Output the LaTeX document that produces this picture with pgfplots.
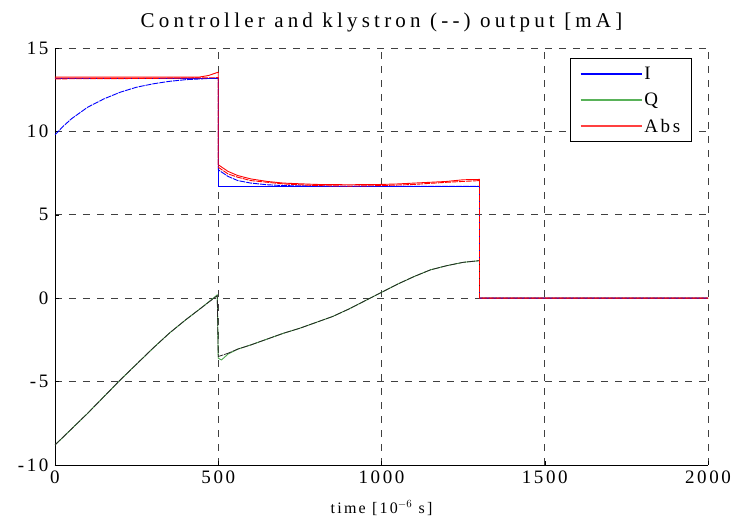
\documentclass[border=0pt]{standalone}
\usepackage{fontspec}
\setmainfont{Liberation Serif}
\newfontfamily\spaced[LetterSpace=14]{Liberation Serif}
\newfontfamily\spacedwide[LetterSpace=20]{Liberation Serif}
\usepackage{pgfplots}
\pgfplotsset{compat=1.18}

\definecolor{mblue}{rgb}{0,0,1}
\definecolor{mgreen}{rgb}{0,0.5,0}
\definecolor{mred}{rgb}{1,0,0}
\definecolor{lgreen}{rgb}{0.35,0.7,0.35}
\definecolor{lred}{rgb}{1,0.25,0.25}

\begin{document}
\begin{tikzpicture}
\begin{axis}[
    name=ax,
    scale only axis,
    width=653pt, height=417pt,
    xmin=0, xmax=2000, ymin=-10, ymax=15,
    axis x line*=bottom, axis y line*=left,
    xtick={0,500,1000,1500,2000},
    ytick={-10,-5,0,5,10,15},
    /pgf/number format/assume math mode=true,
    /pgf/number format/1000 sep={},
    scaled x ticks=false,
    xticklabel style={font=\spaced\fontsize{19}{20}\selectfont, yshift=-2pt},
    yticklabel style={font=\spaced\fontsize{19}{20}\selectfont, xshift=-3pt},
    tick align=inside,
    major tick length=4pt,
    tick style={black, thin},
    grid=major,
    grid style={black!75, dash pattern=on 7pt off 7pt, line width=0.8pt},
    axis line style={black, line width=0.8pt, -},
    title={Controller and klystron (-{}-) output [mA]},
    title style={font=\spacedwide\fontsize{21}{22}\selectfont, yshift=6pt},
    xlabel={time [10$^{-6}$ s]},
    xlabel style={font=\spaced\fontsize{16}{17}\selectfont, yshift=-10pt},
    legend style={at={(0.975,0.975)}, anchor=north east, draw=black, line width=0.8pt,
        font=\spaced\fontsize{19}{22}\selectfont, row sep=8pt, inner xsep=9pt, inner ysep=6pt},
    legend cell align=left,
    legend image code/.code={\draw[#1] (0pt,0pt) -- (61pt,0pt);},
]
\addlegendimage{mblue, line width=1.6pt}
\addlegendentry{I}
\addlegendimage{lgreen, line width=1.6pt}
\addlegendentry{Q}
\addlegendimage{lred, line width=1.6pt}
\addlegendentry{Abs}
% controller I
\addplot[mblue, line width=0.9pt, forget plot] coordinates {
    (0,13.2) (500,13.2) (500,6.7) (1300,6.7) (1300,0) (2000,0)
};
% controller Q
\addplot[mgreen!70!white, line width=0.9pt, forget plot] coordinates {
    (0,-8.8) (50,-7.85) (100,-6.9) (150,-5.9) (200,-4.9) (250,-3.95) (300,-3.0)
    (350,-2.1) (400,-1.3) (450,-0.55) (497,0.2) (500,-3.6) (510,-3.7) (530,-3.35)
    (560,-3.05) (600,-2.8) (650,-2.45) (700,-2.1) (750,-1.8) (800,-1.45) (850,-1.1)
    (900,-0.65) (950,-0.15) (1000,0.35) (1050,0.85) (1100,1.3) (1150,1.7)
    (1200,1.95) (1250,2.15) (1300,2.25) (1300,0) (2000,0)
};
% controller Abs
\addplot[mred, line width=0.9pt, forget plot] coordinates {
    (0,13.25) (200,13.25) (440,13.25) (470,13.35) (500,13.55) (500,8.0) (530,7.6)
    (560,7.35) (600,7.15) (650,7.0) (700,6.9) (800,6.82) (900,6.8) (1000,6.82)
    (1050,6.85) (1100,6.9) (1150,6.95) (1200,7.0) (1250,7.1) (1300,7.12)
    (1300,0) (2000,0)
};
% klystron I
\addplot[mblue, line width=0.9pt, dash pattern=on 6pt off 1pt, forget plot] coordinates {
    (0,9.8) (25,10.3) (50,10.75) (100,11.45) (150,11.95) (200,12.35) (250,12.65)
    (300,12.85) (350,13.0) (400,13.1) (450,13.15) (500,13.2) (500,7.7) (530,7.3)
    (560,7.05) (600,6.9) (650,6.8) (700,6.75) (800,6.72) (900,6.7) (1300,6.7)
    (1300,0) (2000,0)
};
% klystron Q
\addplot[black!85, line width=0.8pt, dash pattern=on 8pt off 1pt, forget plot] coordinates {
    (0,-8.8) (50,-7.85) (100,-6.9) (150,-5.9) (200,-4.9) (250,-3.95) (300,-3.0)
    (350,-2.1) (400,-1.3) (450,-0.55) (497,0.15) (500,-3.5) (530,-3.3)
    (560,-3.05) (600,-2.8) (650,-2.45) (700,-2.1) (750,-1.8) (800,-1.45) (850,-1.1)
    (900,-0.65) (950,-0.15) (1000,0.35) (1050,0.85) (1100,1.3) (1150,1.7)
    (1200,1.95) (1250,2.15) (1300,2.25) (1300,0)
};
% klystron Abs
\addplot[mred, line width=0.9pt, dash pattern=on 6pt off 1pt, forget plot] coordinates {
    (0,13.15) (250,13.17) (500,13.22) (500,7.85) (530,7.45) (560,7.25) (600,7.05)
    (700,6.85) (800,6.75) (900,6.72) (1000,6.75) (1100,6.82) (1200,6.95)
    (1300,7.05) (1300,0) (2000,0)
};
\end{axis}
\pgfresetboundingbox
\path ([xshift=-55pt,yshift=-53pt]ax.south west) rectangle ([xshift=28pt,yshift=48pt]ax.north east);
\end{tikzpicture}
\end{document}
